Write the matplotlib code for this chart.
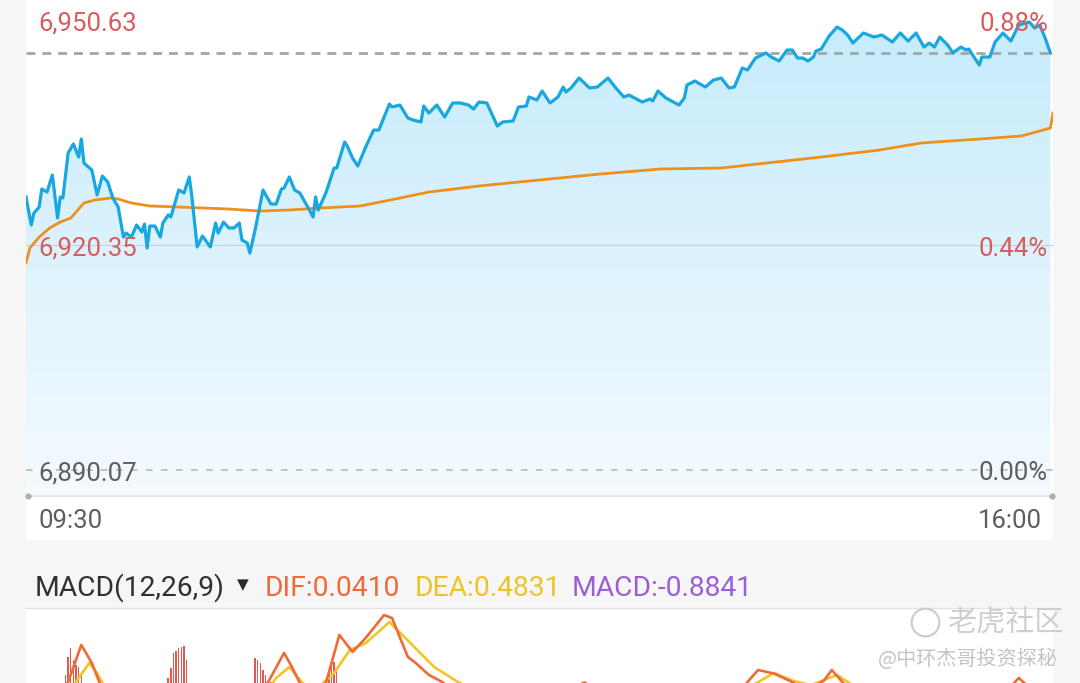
import numpy as np
import matplotlib
matplotlib.use("Agg")
import matplotlib.pyplot as plt
from matplotlib.patches import Rectangle, Polygon
from matplotlib.lines import Line2D
from matplotlib.colors import LinearSegmentedColormap

plt.rcParams['font.family'] = ['Roboto', 'DejaVu Sans']

# ---------------- data ----------------
# intraday price (minutes after 09:30)
minutes_blue = [0, 2, 3, 5, 6, 8, 10, 12, 13, 14,
                16, 18, 20, 21, 22, 25, 27, 29, 31, 33,
                35, 37, 38, 40, 42, 44, 45, 46, 47, 49,
                51, 52, 54, 55, 58, 60, 62, 63, 65, 67,
                70, 72, 73, 75, 77, 79, 81, 82, 84, 85,
                87, 90, 93, 95, 97, 98, 100, 102, 104, 107,
                109, 110, 111, 114, 117, 118, 121, 122, 124, 126,
                129, 132, 134, 138, 139, 142, 145, 147, 150, 151,
                153, 156, 159, 162, 165, 168, 170, 172, 175, 179,
                181, 185, 187, 190, 191, 194, 196, 199, 202, 204,
                205, 207, 210, 214, 217, 221, 224, 227, 229, 234,
                237, 238, 240, 243, 248, 250, 251, 254, 258, 261,
                264, 267, 269, 272, 274, 277, 281, 283, 286, 289,
                291, 293, 295, 297, 299, 300, 302, 305, 308, 310,
                312, 314, 318, 322, 325, 329, 332, 335, 338, 341,
                343, 345, 347, 350, 352, 355, 357, 358, 362, 363,
                366, 368, 371, 374, 377, 381, 383, 385, 387, 389]
price_blue = [6926.81, 6923.04, 6924.65, 6925.46, 6927.88, 6927.48, 6929.77, 6923.98, 6926.81, 6926.67,
              6932.73, 6933.94, 6932.19, 6934.61, 6931.38, 6930.44, 6927.08, 6929.63, 6928.83, 6926.67,
              6925.46, 6921.42, 6921.96, 6921.42, 6923.04, 6922.10, 6923.17, 6919.94, 6922.90, 6922.90,
              6921.42, 6923.31, 6924.39, 6924.12, 6927.75, 6927.35, 6929.50, 6926.81, 6920.08, 6921.56,
              6920.08, 6923.31, 6921.96, 6923.44, 6922.64, 6922.64, 6923.31, 6921.02, 6920.62, 6919.27,
              6922.37, 6927.75, 6925.87, 6925.87, 6927.88, 6928.02, 6929.50, 6927.75, 6927.35, 6925.46,
              6924.12, 6926.81, 6925.06, 6927.48, 6930.71, 6930.71, 6934.21, 6933.67, 6932.06, 6930.98,
              6933.54, 6935.82, 6935.82, 6939.32, 6938.92, 6939.19, 6937.44, 6937.17, 6936.90, 6939.05,
              6938.11, 6939.19, 6937.57, 6939.46, 6939.46, 6939.19, 6938.65, 6939.59, 6939.46, 6936.36,
              6936.90, 6937.04, 6938.92, 6939.05, 6940.27, 6939.86, 6941.07, 6939.46, 6940.27, 6941.61,
              6940.94, 6941.48, 6942.82, 6941.48, 6941.61, 6942.82, 6941.48, 6940.27, 6940.53, 6939.59,
              6940.00, 6939.73, 6941.07, 6940.13, 6939.19, 6940.13, 6941.88, 6942.42, 6941.61, 6942.55,
              6942.82, 6941.48, 6941.61, 6944.17, 6943.90, 6945.51, 6946.19, 6945.65, 6945.11, 6946.59,
              6946.59, 6945.51, 6945.51, 6945.11, 6945.65, 6946.46, 6946.73, 6948.48, 6949.69, 6949.28,
              6948.61, 6947.53, 6948.88, 6948.34, 6948.61, 6947.67, 6948.88, 6947.80, 6948.88, 6946.99,
              6947.53, 6946.99, 6948.34, 6947.26, 6946.19, 6946.99, 6946.59, 6946.73, 6944.57, 6945.65,
              6945.65, 6947.67, 6948.88, 6947.80, 6949.96, 6950.36, 6949.55, 6949.96, 6948.21, 6946.19]

# average price line
minutes_avg = [0, 1.5, 5, 9, 13, 17, 22, 26, 32, 35, 40, 47, 58, 77, 89, 100,
               112, 127, 142, 153, 172, 195, 218, 241, 264, 302, 324, 340, 362, 378, 389, 390]
price_avg = [6917.93, 6919.94, 6921.42, 6922.64, 6923.44, 6923.98, 6926.00, 6926.40, 6926.67, 6926.54,
             6926.00, 6925.60, 6925.46, 6925.19, 6924.92, 6925.06, 6925.33, 6925.60, 6926.67, 6927.48,
             6928.29, 6929.10, 6929.90, 6930.58, 6930.71, 6932.19, 6933.13, 6934.08, 6934.61, 6935.02,
             6936.09, 6938.11]

price_labels = ["6,950.63", "6,920.35", "6,890.07"]
price_levels = [6950.63, 6920.35, 6890.07]
pct_labels = ["0.88%", "0.44%", "0.00%"]
time_labels = ["09:30", "16:00"]

# MACD panel (only the top of it is visible)
dif_minutes = [0, 12, 16, 21, 25, 28, 32, 60, 87, 92,
               98, 101, 104, 108, 112, 114, 119, 124, 129, 136,
               139, 145, 148, 153, 158, 163, 190, 212, 220, 250,
               271, 274, 278, 284, 291, 296, 303, 306, 310, 315,
               340, 372, 377, 381, 390]
dif_values = [0.0, 0.3, 0.84, 2.42, 1.65, 0.79, 0.1, -0.3, 0.1, 0.84,
              2.08, 1.48, 0.79, 0.2, 0.4, 0.84, 2.85, 2.12, 2.72, 3.70,
              3.57, 1.91, 1.65, 1.14, 0.84, 0.4, -0.5, 0.82, 0.3, -0.4,
              0.3, 0.84, 1.35, 1.2, 0.84, 0.4, 0.9, 1.35, 0.84, 0.3,
              -0.5, 0.4, 1.01, 0.6, 0.04]
dea_minutes = [0, 14, 19, 24, 27, 29, 35, 60, 90, 95,
               100, 105, 110, 117, 123, 129, 138, 146, 155, 164,
               170, 200, 250, 276, 284, 291, 298, 308, 314, 340, 390]
dea_values = [0.0, 0.2, 0.84, 1.65, 1.22, 0.79, 0.3, -0.2, 0.2, 1.01,
              1.48, 0.79, 0.5, 1.22, 2.21, 2.50, 3.40, 2.50, 1.48, 0.84,
              0.5, 0.0, -0.2, 0.7, 1.22, 0.9, 0.7, 1.14, 0.7, 0.2, 0.48]
hist_minutes = [15, 16, 17, 18, 19, 20, 21,
                54, 55, 56, 57, 58, 59, 60, 61,
                87, 88, 89, 90, 91, 92, 93,
                115, 116, 117, 118]
hist_values = [1.14, 1.9, 2.29, 1.78, 1.56, 1.48, 1.22,
               1.01, 1.44, 2.08, 2.16, 2.29, 2.33, 2.38, 1.78,
               1.86, 1.78, 1.65, 1.35, 1.14, 0.92, 0.84,
               1.22, 1.65, 1.70, 1.35]
macd_title = "MACD(12,26,9)"
dif_label = "DIF:0.0410"
dea_label = "DEA:0.4831"
macd_label = "MACD:-0.8841"

# ---------------- layout helpers ----------------
W, H = 1080, 683
fig = plt.figure(figsize=(W / 100, H / 100), dpi=100)
fig.patch.set_facecolor('#f6f6f6')


def fx(px):
    return px / W


def fy(py):
    return 1 - py / H


L, R = 26, 1053
# white panels
fig.add_artist(Rectangle((fx(L), fy(540)), fx(R - L), 540 / H, transform=fig.transFigure,
                         facecolor='white', edgecolor='none', zorder=0))
fig.add_artist(Rectangle((fx(L), fy(H)), fx(R - L), (H - 609) / H, transform=fig.transFigure,
                         facecolor='white', edgecolor='none', zorder=0))

# ---------------- main price chart ----------------
ax = fig.add_axes([fx(L), fy(496), fx(R - L), 496 / H])
ax.set_facecolor('none')
for s in ax.spines.values():
    s.set_visible(False)
ax.set_xticks([])
ax.set_yticks([])
per_px = (price_levels[0] - price_levels[2]) / 450.0
ytop = price_levels[0] + 20 * per_px
ybot = price_levels[2] - 26 * per_px
ax.set_xlim(0, 390)
ax.set_ylim(ybot, ytop)

# gradient fill under price line
verts = [(minutes_blue[0], ybot)] + list(zip(minutes_blue, price_blue)) + [(minutes_blue[-1], ybot)]
poly = Polygon(verts, closed=True, facecolor='none', edgecolor='none')
ax.add_patch(poly)
cmap = LinearSegmentedColormap.from_list('g', [(196 / 255, 235 / 255, 251 / 255),
                                               (244 / 255, 250 / 255, 254 / 255)])
grad = np.linspace(0, 1, 256).reshape(-1, 1)
im = ax.imshow(grad, extent=[0, 390, ybot, ytop], aspect='auto', cmap=cmap,
               origin='upper', zorder=1, interpolation='bilinear')
im.set_clip_path(poly)

ax.axhline(price_levels[1], color='#bdd4df', lw=0.8, zorder=2)
ax.axhline(price_levels[2], color='#b5b9bd', lw=1.2, linestyle=(0, (4, 5)), zorder=2)
ax.axhline(price_blue[-1], color='#a5a5a5', lw=2.0, linestyle=(0, (3.2, 2.5)), zorder=2.5)

ax.plot(minutes_avg, price_avg, color='#ef8f1c', lw=2.0, zorder=3, solid_joinstyle='round')
ax.plot(minutes_blue, price_blue, color='#19a7df', lw=2.3, zorder=4, solid_joinstyle='round')

# bottom axis line with end dots
fig.add_artist(Line2D([fx(L), fx(R)], [fy(496), fy(496)], transform=fig.transFigure,
                      color='#e3e3e3', lw=1.2, zorder=5))
fig.add_artist(Line2D([fx(L + 1.5), fx(R - 1.5)], [fy(496), fy(496)], transform=fig.transFigure,
                      linestyle='none', marker='o', markersize=4.5, markerfacecolor='#b0b0b0',
                      markeredgecolor='none', zorder=6))

# price / percentage labels
red = '#d85c5c'
gray = '#5a5f66'
label_y = [24, 249, 473]
for i, (t, p) in enumerate(zip(price_labels, pct_labels)):
    c = gray if i == 2 else red
    fig.text(fx(38), fy(label_y[i]), t, color=c, fontsize=18.5, ha='left', va='center', zorder=10)
    fig.text(fx(1048), fy(label_y[i]), p, color=c, fontsize=18.5, ha='right', va='center', zorder=10)

fig.text(fx(38), fy(521), time_labels[0], color=gray, fontsize=18.5, ha='left', va='center')
fig.text(fx(1042), fy(521), time_labels[1], color=gray, fontsize=18.5, ha='right', va='center')

# ---------------- MACD header ----------------
hy = fy(588)
fig.text(fx(35), hy, macd_title, color='#2f3033', fontsize=20.3, ha='left', va='center')
fig.text(fx(243), fy(585), "▼", color='#2a2a2a', fontsize=11, ha='center', va='center',
         family=['DejaVu Sans'])
fig.text(fx(265), hy, dif_label, color='#ec6a3c', fontsize=20.3, ha='left', va='center')
fig.text(fx(415), hy, dea_label, color='#eec425', fontsize=20.3, ha='left', va='center')
fig.text(fx(572), hy, macd_label, color='#9a5fd3', fontsize=20.3, ha='left', va='center')
fig.add_artist(Line2D([fx(L), fx(R)], [fy(608), fy(608)], transform=fig.transFigure,
                      color='#e2e2e2', lw=1.0, zorder=5))

# ---------------- MACD panel ----------------
px_per_unit = 23.4
vmax, vmin = 4.0, -2.0
bottom_px = 608 + (vmax - vmin) * px_per_unit
ax2 = fig.add_axes([fx(L), fy(bottom_px), fx(R - L), (bottom_px - 608) / H])
ax2.set_facecolor('none')
for s in ax2.spines.values():
    s.set_visible(False)
ax2.set_xticks([])
ax2.set_yticks([])
ax2.set_xlim(0, 390)
ax2.set_ylim(vmin, vmax)
ax2.bar(hist_minutes, hist_values, width=0.55, color='#e8574e', zorder=2)
ax2.plot(dea_minutes, dea_values, color='#f2c523', lw=1.9, zorder=3)
ax2.plot(dif_minutes, dif_values, color='#ec6b38', lw=1.9, zorder=4)

# ---------------- watermark ----------------
fig.add_artist(Line2D([fx(925)], [fy(622)], transform=fig.transFigure, linestyle='none',
                      marker='o', markersize=20, markerfacecolor='none',
                      markeredgecolor='#cbcbcb', markeredgewidth=1.5, zorder=8))
fig.text(fx(947), fy(623), "老虎社区", color='#cfcfcf', fontsize=21, ha='left', va='center',
         family=['Noto Sans CJK SC', 'DejaVu Sans'], zorder=9)
fig.text(fx(1058), fy(659), "@中环杰哥投资探秘", color='#c4c4c4', fontsize=14.5, ha='right',
         va='center', family=['Noto Sans CJK SC', 'DejaVu Sans'], zorder=9)

fig.savefig('out.png', dpi=100, facecolor=fig.get_facecolor())
